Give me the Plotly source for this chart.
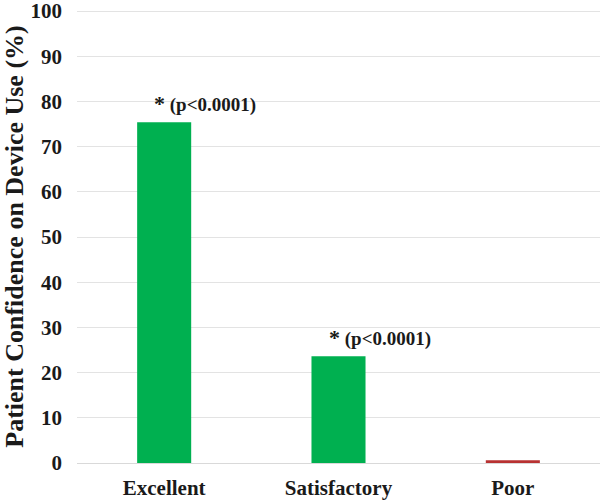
import plotly.graph_objects as go

categories = ["Excellent", "Satisfactory", "Poor"]
values = [75.4, 23.6, 0.6]
colors = ["#00B050", "#00B050", "#B83232"]
annot_text = ["* (p<0.0001)", "* (p<0.0001)", ""]
y_ticks = list(range(0, 101, 10))

FONT = "Liberation Serif"

fig = go.Figure()
fig.add_trace(go.Bar(
    x=categories, y=values, marker=dict(color=colors, line=dict(width=0)),
    width=0.31, showlegend=False, hoverinfo="skip",
))

for c, v, t in zip(categories, values, annot_text):
    if not t:
        continue
    star, rest = t.split(" ", 1)
    fig.add_annotation(
        x=c, y=v, xref="x", yref="y",
        text=f"<span style='font-size:22px'>{star}</span> " + rest.replace("<", "&lt;"),
        showarrow=False, xanchor="left", yanchor="bottom",
        xshift=-12, yshift=4,
        font=dict(family=FONT, size=19, color="#1a1a1a", weight="bold"),
    )

fig.update_layout(
    width=613, height=504,
    margin=dict(l=77, r=13, t=10, b=41, autoexpand=False),
    paper_bgcolor="white", plot_bgcolor="white",
    font=dict(family=FONT, color="#1a1a1a"),
)
fig.update_xaxes(
    automargin=False,
    showgrid=False, showline=False, zeroline=False,
    tickfont=dict(family=FONT, size=21, color="#1a1a1a", weight="bold"),
    ticks="", ticklabelstandoff=10,
)
fig.update_yaxes(
    automargin=False, ticklabeloverflow="allow",
    range=[0, 100.25], tickvals=y_ticks, showgrid=True, gridcolor="#E3E3E3",
    gridwidth=1, zeroline=True, zerolinecolor="#D9D9D9", zerolinewidth=1,
    showline=False, ticks="", ticklabelstandoff=14,
    tickfont=dict(family=FONT, size=21, color="#1a1a1a", weight="bold"),
    title=dict(text="Patient Confidence on Device Use (%)",
               font=dict(family=FONT, size=26, color="#1a1a1a", weight="bold"),
               standoff=14),
)

fig.write_html("out.html", config={"displayModeBar": False},
               post_script="document.body.style.margin='0';document.body.style.padding='0';")
